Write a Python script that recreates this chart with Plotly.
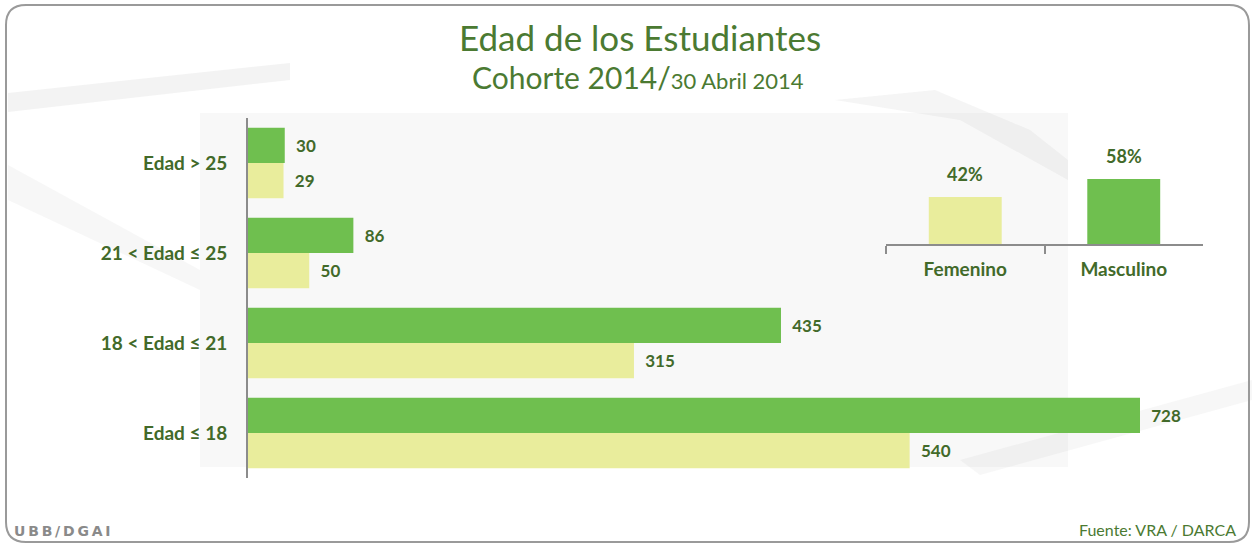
import plotly.graph_objects as go

# ---- data ----
categories = ["Edad ≤ 18", "18 < Edad ≤ 21", "21 < Edad ≤ 25", "Edad > 25"]  # bottom -> top
masculino = [728, 435, 86, 30]
femenino = [540, 315, 50, 29]

sexo_labels = ["Femenino", "Masculino"]
sexo_pct = [42, 58]

W, H = 1252, 545
FONT = "Lato"
GREEN = "#6fbf4f"
YELLOW = "#e9ed9c"
TXT = "#426a2a"
TITLE = "#4b7a32"

def px_x(p):
    return p / W

def px_y(p):
    return 1 - p / H

fig = go.Figure()

fig.add_trace(go.Bar(
    y=categories, x=femenino, orientation="h", name="Femenino",
    marker=dict(color=YELLOW, line=dict(width=0)),
    text=femenino, texttemplate="  %{x}", textposition="outside",
    textfont=dict(family=FONT, size=17, color=TXT, weight="bold"),
    cliponaxis=False, xaxis="x", yaxis="y",
))
fig.add_trace(go.Bar(
    y=categories, x=masculino, orientation="h", name="Masculino",
    marker=dict(color=GREEN, line=dict(width=0)),
    text=masculino, texttemplate="  %{x}", textposition="outside",
    textfont=dict(family=FONT, size=17, color=TXT, weight="bold"),
    cliponaxis=False, xaxis="x", yaxis="y",
))

fig.add_trace(go.Bar(
    x=sexo_labels, y=sexo_pct, name="pct",
    marker=dict(color=[YELLOW, GREEN], line=dict(width=0)),
    xaxis="x2", yaxis="y2", width=0.46,
))

pct_annotations = [
    dict(x=lab, y=val, xref="x2", yref="y2", text=f"{val}%", showarrow=False,
         xanchor="center", yanchor="bottom", yshift=10,
         font=dict(family=FONT, size=18, color=TXT, weight="bold"))
    for lab, val in zip(sexo_labels, sexo_pct)
]

x_range_max = 760
x0_px = 248
scale = (1140 - 248) / 728.0
x1_px = x0_px + x_range_max * scale

# inset geometry
ins_x0, ins_x1 = 886, 1203
ins_base = 244
ins_scale = (243 - 178) / 58.0
ins_top = ins_base - 100 * ins_scale

def P(x, y):
    return f"{px_x(x):.5f},{px_y(y):.5f}"

# border path (rounded rectangle) in paper coords
bx0, by0, bx1, by1, r = 6, 5, 1249, 542, 20
border = (f"M {P(bx0 + r, by0)} L {P(bx1 - r, by0)} Q {P(bx1, by0)} {P(bx1, by0 + r)} "
          f"L {P(bx1, by1 - r)} Q {P(bx1, by1)} {P(bx1 - r, by1)} "
          f"L {P(bx0 + r, by1)} Q {P(bx0, by1)} {P(bx0, by1 - r)} "
          f"L {P(bx0, by0 + r)} Q {P(bx0, by0)} {P(bx0 + r, by0)} Z")

def poly(pts):
    return "M " + " L ".join(P(x, y) for x, y in pts) + " Z"

watermark = [
    (poly([(200, 113), (1068, 113), (1068, 467), (200, 467)]), 0.10),
    (poly([(8, 93), (290, 63), (290, 80), (8, 112)]), 0.18),
    (poly([(835, 100), (935, 90), (1030, 130), (1068, 160), (1068, 180), (960, 120)]), 0.15),
    (poly([(8, 165), (200, 270), (200, 290), (8, 200)]), 0.12),
    (poly([(960, 460), (1252, 380), (1252, 400), (980, 475)]), 0.12),
]

shapes = [dict(type="path", xref="paper", yref="paper", path=p, line=dict(width=0),
               fillcolor=f"rgba(190,190,190,{a})", layer="below") for p, a in watermark]
shapes.append(dict(type="path", xref="paper", yref="paper", path=border,
                   line=dict(color="#9a9a9a", width=2), fillcolor="rgba(0,0,0,0)", layer="above"))

fig.update_layout(
    width=W, height=H,
    margin=dict(l=0, r=0, t=0, b=0),
    paper_bgcolor="white", plot_bgcolor="rgba(0,0,0,0)",
    showlegend=False,
    barmode="group", bargap=0.215, bargroupgap=0,
    font=dict(family=FONT, color=TXT),
    xaxis=dict(domain=[px_x(x0_px), px_x(x1_px)], range=[0, x_range_max],
               visible=False, fixedrange=True),
    yaxis=dict(domain=[px_y(478), px_y(118)], type="category",
               categoryorder="array", categoryarray=categories,
               showline=True, linecolor="#8c8c8c", linewidth=2,
               showgrid=False, ticks="", ticklabelstandoff=15,
               tickfont=dict(family=FONT, size=19, color=TXT, weight="bold"),
               anchor="x"),
    xaxis2=dict(domain=[px_x(ins_x0), px_x(ins_x1)], range=[-0.5, 1.5],
                anchor="y2", showline=True, linecolor="#8c8c8c", linewidth=1.5,
                ticks="outside", tickson="boundaries", ticklen=8, tickcolor="#8c8c8c",
                tickwidth=1.5, showgrid=False, ticklabelstandoff=7,
                tickfont=dict(family=FONT, size=19, color=TXT, weight="bold")),
    yaxis2=dict(domain=[px_y(ins_base), px_y(ins_top)], range=[0, 100],
                anchor="x2", visible=False, showgrid=False),
    shapes=shapes,
    annotations=pct_annotations + [
        dict(text="Edad de los Estudiantes", x=px_x(640), y=px_y(37), xref="paper", yref="paper",
             showarrow=False, xanchor="center", yanchor="middle",
             font=dict(family=FONT, size=35, color=TITLE)),
        dict(text="Cohorte 2014/<span style='font-size:22px'>30 Abril 2014</span>",
             x=px_x(638), y=px_y(77), xref="paper", yref="paper",
             showarrow=False, xanchor="center", yanchor="middle",
             font=dict(family=FONT, size=30, color=TITLE)),
        dict(text="Fuente: VRA / DARCA", x=px_x(1238), y=px_y(529), xref="paper", yref="paper",
             showarrow=False, xanchor="right", yanchor="middle",
             font=dict(family=FONT, size=16, color=TITLE)),
        dict(text="U\u2009B\u2009B\u2009/\u2009D\u2009G\u2009A\u2009I", x=px_x(12), y=px_y(531),
             xref="paper", yref="paper",
             showarrow=False, xanchor="left", yanchor="middle",
             font=dict(family="DejaVu Sans", size=14, color="#8a8a8a", weight="bold")),
    ],
)

fig.write_html("out.html", config={"displayModeBar": False},
               post_script="document.body.style.margin='0';")
